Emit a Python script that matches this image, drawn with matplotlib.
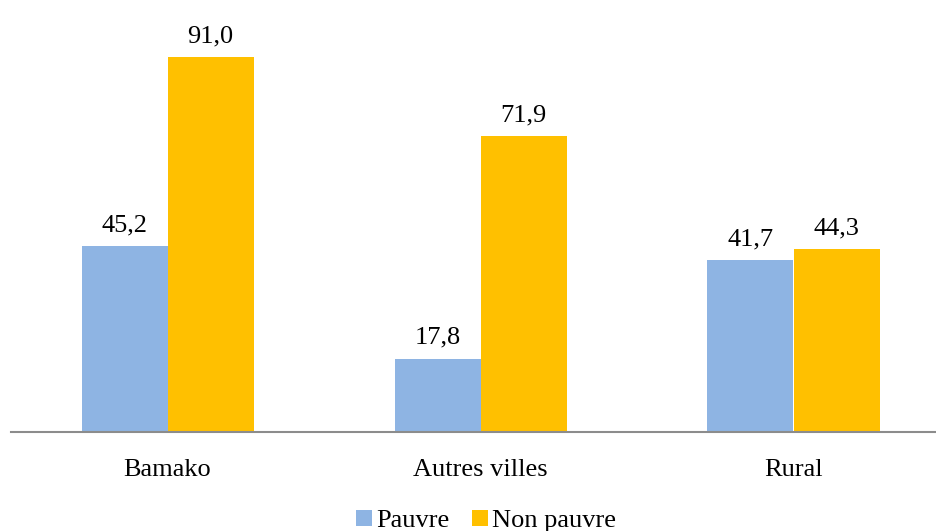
import matplotlib.pyplot as plt
import numpy as np

plt.rcParams['font.family'] = ['Liberation Serif', 'DejaVu Serif']

categories = ['Bamako', 'Autres villes', 'Rural']
pauvre = [45.2, 17.8, 41.7]
non_pauvre = [91.0, 71.9, 44.3]
series_names = ['Pauvre', 'Non pauvre']

W, H = 936, 531
fig = plt.figure(figsize=(W / 100, H / 100), dpi=100)
ax = fig.add_axes([11 / W, (H - 432) / H, (W - 11) / W, 412 / H])

x = np.arange(len(categories))
width = 86 / 313
b1 = ax.bar(x - width / 2, pauvre, width, color='#8EB4E3', label=series_names[0])
b2 = ax.bar(x + width / 2, non_pauvre, width, color='#FFC000', label=series_names[1])

for bars, vals in ((b1, pauvre), (b2, non_pauvre)):
    for rect, v in zip(bars, vals):
        ax.annotate(f'{v:.1f}'.replace('.', ','),
                    (rect.get_x() + rect.get_width() / 2, rect.get_height()),
                    xytext=(0, 7), textcoords='offset points',
                    ha='center', va='bottom', fontsize=19)

ax.set_xlim(-0.5, -0.5 + (W - 11) / 313)
ax.set_ylim(0, 100)
ax.set_xticks(x)
ax.set_xticklabels(categories, fontsize=19)
ax.tick_params(axis='x', length=0, pad=19.5)
ax.set_yticks([])
for s in ['top', 'right', 'left']:
    ax.spines[s].set_visible(False)
ax.spines['bottom'].set_color('#8c8c8c')
ax.spines['bottom'].set_linewidth(1.5)

fig.legend(handles=[b1, b2], loc='center', bbox_to_anchor=(486 / W, (H - 521) / H),
           ncol=2, frameon=False, fontsize=19, handlelength=0.6, handleheight=0.6,
           handletextpad=0.15, columnspacing=0.85)

fig.savefig('out.png', dpi=100)
